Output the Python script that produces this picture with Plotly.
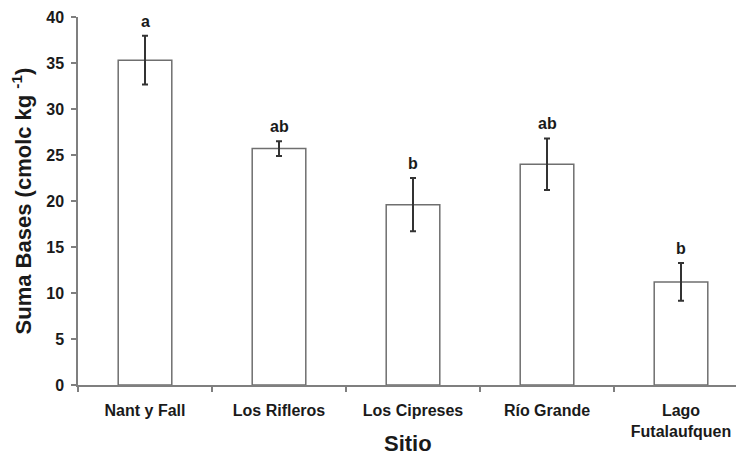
import plotly.graph_objects as go

sitios = ["Nant y Fall", "Los Rifleros", "Los Cipreses", "Río Grande", "Lago<br>Futalaufquen"]
suma_bases = [35.3, 25.7, 19.6, 24.0, 11.2]
error = [2.65, 0.8, 2.9, 2.8, 2.05]
letras = ["a", "ab", "b", "ab", "b"]
y_ticks = [0, 5, 10, 15, 20, 25, 30, 35, 40]

FONT = "Liberation Sans, Arial, sans-serif"

fig = go.Figure()
fig.add_trace(go.Bar(
    x=sitios, y=suma_bases, width=0.4,
    marker=dict(color="white", line=dict(color="#6f6f6f", width=1.5)),
    error_y=dict(type="data", array=error, visible=True, color="#333333", thickness=2, width=3),
    showlegend=False,
))

for s, v, e, l in zip(sitios, suma_bases, error, letras):
    fig.add_annotation(x=s, y=v + e, text=f"<b>{l}</b>", showarrow=False,
                       yanchor="bottom", yshift=4,
                       font=dict(family=FONT, size=16, color="#1a1a1a"))

# x-axis title placed beside the two-line tick label, as in the original
fig.add_annotation(xref="paper", yref="paper", x=0.4925, y=0, yanchor="middle", yshift=-58,
                   text="<b>Sitio</b>", showarrow=False,
                   font=dict(family=FONT, size=22, color="#1a1a1a"))

fig.update_layout(
    width=744, height=456,
    margin=dict(l=70, r=4, t=9, b=79),
    plot_bgcolor="white", paper_bgcolor="white",
    font=dict(family=FONT, color="#1a1a1a"),
    bargap=0.6,
)
fig.update_xaxes(
    range=[-0.5, 4.5], automargin=False,
    showline=True, linecolor="#7f7f7f", linewidth=1.5,
    ticks="outside", tickson="boundaries", ticklen=5, tickcolor="#7f7f7f", tickwidth=1.5,
    ticklabelstandoff=10,
    tickfont=dict(family=FONT, size=16, color="#1a1a1a", weight="bold"),
    showgrid=False,
)
fig.update_yaxes(
    range=[0, 40], tickvals=y_ticks, automargin=False,
    showline=True, linecolor="#7f7f7f", linewidth=1.5,
    ticks="outside", ticklen=5, tickcolor="#7f7f7f", tickwidth=1.5,
    ticklabelstandoff=4,
    tickfont=dict(family=FONT, size=16, color="#1a1a1a", weight="bold"),
    title=dict(text="<b>Suma Bases (cmolc kg <sup>-1</sup>)</b>", font=dict(family=FONT, size=22, color="#1a1a1a")),
    showgrid=False, zeroline=False,
)

fig.write_html("out.html")
